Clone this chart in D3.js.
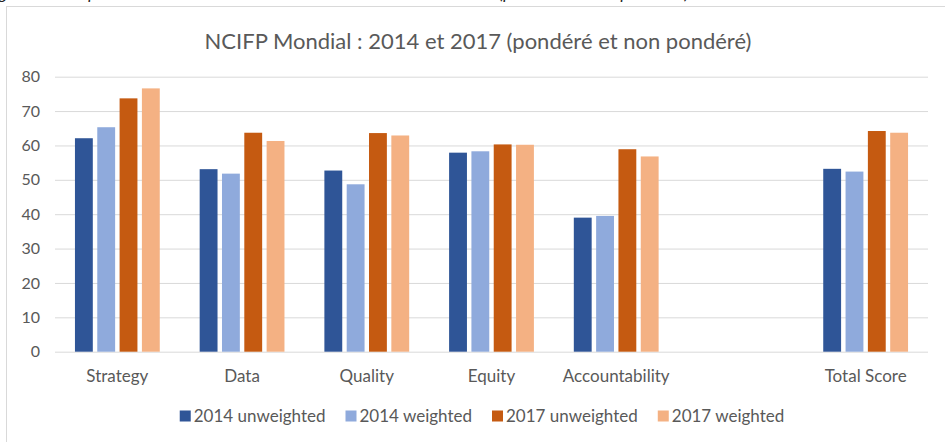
<!DOCTYPE html>
<html>
<head>
<meta charset="utf-8">
<script src="https://cdn.jsdelivr.net/npm/d3@7"></script>
<style>
  html, body { margin: 0; padding: 0; background: #fff; }
  svg { display: block; font-family: Lato, "Open Sans", sans-serif; }
</style>
</head>
<body>
<div id="chart"></div>
<script>
const categories = ["Strategy", "Data", "Quality", "Equity", "Accountability", "", "Total Score"];
const seriesNames = ["2014 unweighted", "2014 weighted", "2017 unweighted", "2017 weighted"];
const unweighted2014 = [62.1, 53.1, 52.7, 57.9, 39.0, null, 53.2];
const weighted2014 = [65.3, 51.8, 48.7, 58.3, 39.5, null, 52.4];
const unweighted2017 = [73.7, 63.7, 63.6, 60.3, 58.9, null, 64.2];
const weighted2017 = [76.6, 61.3, 62.9, 60.2, 56.8, null, 63.7];
const yTicks = [0, 10, 20, 30, 40, 50, 60, 70, 80];
const colors = ["#2F5597", "#8FAADC", "#C55A11", "#F4B183"];

const width = 945, height = 442;
const plot = {left: 55, right: 928, top: 76.7, bottom: 351.7};

const svg = d3.select("#chart").append("svg")
    .attr("width", width)
    .attr("height", height);

// caption of the figure, cut off by the top edge as in the source
svg.append("text")
    .attr("x", -14)
    .attr("y", -1)
    .attr("font-style", "italic")
    .attr("font-size", 17)
    .attr("fill", "#222")
    .text("Figure 7 : Comparaison des scores mondiaux du NCIFP en 2014 et 2017 (pondérés et non pondérés)");

// chart frame
svg.append("rect")
    .attr("x", 6.5).attr("y", 6.5)
    .attr("width", 1000).attr("height", 500)
    .attr("fill", "none")
    .attr("stroke", "#D9D9D9");

svg.append("text")
    .attr("x", 478)
    .attr("y", 49)
    .attr("text-anchor", "middle")
    .attr("font-size", 22)
    .attr("fill", "#595959")
    .text("NCIFP Mondial : 2014 et 2017 (pondéré et non pondéré)");

const rows = categories.map((c, i) => ({
    cat: c,
    values: [unweighted2014[i], weighted2014[i], unweighted2017[i], weighted2017[i]]
}));

const x0 = d3.scaleBand()
    .domain(categories)
    .range([plot.left, plot.right])
    .paddingInner(0.32)
    .paddingOuter(0.16);

const x1 = d3.scaleBand()
    .domain(d3.range(seriesNames.length))
    .range([0, x0.bandwidth()])
    .paddingInner(0.2);

const y = d3.scaleLinear()
    .domain([0, 80])
    .range([plot.bottom, plot.top]);

// grid
svg.append("g")
    .attr("transform", "translate(" + plot.left + ",0)")
    .call(d3.axisLeft(y).tickValues(yTicks).tickSize(-(plot.right - plot.left)).tickFormat(""))
    .call(g => g.select(".domain").remove())
    .call(g => g.selectAll("line").attr("stroke", "#D9D9D9").attr("stroke-width", 1));

// y labels
svg.append("g")
    .selectAll("text")
    .data(yTicks)
    .enter().append("text")
    .attr("x", 40)
    .attr("y", d => y(d))
    .attr("dy", "0.35em")
    .attr("text-anchor", "end")
    .attr("font-size", 16)
    .attr("fill", "#595959")
    .text(d => d);

// bars
svg.append("g")
    .selectAll("g")
    .data(rows)
    .enter().append("g")
    .attr("transform", d => "translate(" + x0(d.cat) + ",0)")
    .selectAll("rect")
    .data(d => d.values.map((v, k) => ({k: k, v: v})).filter(d => d.v != null))
    .enter().append("rect")
    .attr("x", d => x1(d.k))
    .attr("y", d => y(d.v))
    .attr("width", x1.bandwidth())
    .attr("height", d => y(0) - y(d.v))
    .attr("fill", d => colors[d.k]);

// category labels
const xCenter = d => x0(d) + x0.bandwidth() / 2;
svg.append("g")
    .selectAll("text")
    .data(categories)
    .enter().append("text")
    .attr("x", xCenter)
    .attr("y", 382)
    .attr("text-anchor", "middle")
    .attr("font-size", 17)
    .attr("fill", "#595959")
    .text(d => d);

// legend
const legend = svg.append("g");
const items = legend.selectAll("g")
    .data(seriesNames)
    .enter().append("g");
items.append("rect")
    .attr("width", 11).attr("height", 11)
    .attr("y", -5.5)
    .attr("fill", (d, i) => colors[i]);
items.append("text")
    .attr("x", 14)
    .attr("dy", "0.35em")
    .attr("font-size", 17)
    .attr("fill", "#595959")
    .text(d => d);

let pos = 0;
items.each(function() {
    d3.select(this).attr("transform", "translate(" + pos + ",0)");
    pos += 14 + d3.select(this).select("text").node().getComputedTextLength() + 20;
});
pos -= 20;
legend.attr("transform", "translate(" + (482 - pos / 2) + ",416)");
</script>
</body>
</html>
